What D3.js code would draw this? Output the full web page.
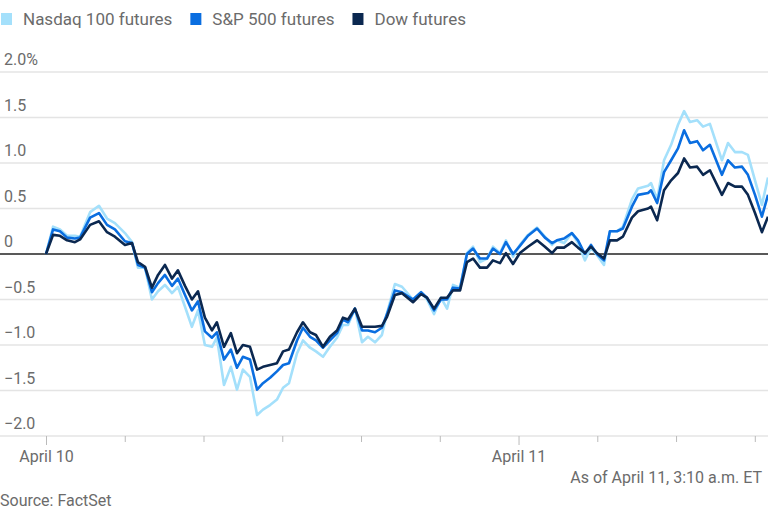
<!DOCTYPE html>
<html><head><meta charset="utf-8">
<script src="https://cdn.jsdelivr.net/npm/d3@7"></script>
<style>body{margin:0;background:#fff}svg{display:block;font-family:Roboto,"Liberation Sans",sans-serif}</style>
</head><body><svg id="c" width="768" height="510"></svg>
<script>
const hours=[0,0.36,0.71,1.07,1.47,1.73,2.24,2.69,3.1,3.5,4.01,4.37,4.67,5.03,5.38,5.69,6.04,6.4,6.7,7.06,7.41,7.72,8.07,8.43,8.68,9.04,9.39,9.7,10.0,10.36,10.72,11.02,11.38,11.73,12.04,12.34,12.75,13.05,13.41,13.71,14.07,14.42,14.78,15.08,15.34,15.69,16.05,16.35,16.71,17.06,17.32,17.72,18.08,18.64,19.05,19.35,19.71,20.06,20.37,20.67,21.03,21.38,21.69,22.04,22.4,22.7,23.06,23.36,23.72,24.07,24.48,24.94,25.34,25.7,25.95,26.31,26.71,27.02,27.37,27.68,27.98,28.34,28.64,29.0,29.3,29.76,30.07,30.58,30.73,31.04,31.39,31.75,32.1,32.41,32.71,33.07,33.37,33.72,34.33,34.64,34.99,35.35,35.65,36.01,36.36,36.67];
const dow=[0,.21,.20,.15,.13,.16,.32,.36,.24,.19,.10,.12,-.09,-.14,-.37,-.23,-.12,-.27,-.18,-.35,-.50,-.41,-.70,-.84,-.75,-1.02,-.87,-1.09,-1.0,-1.02,-1.27,-1.24,-1.22,-1.2,-1.07,-1.05,-.86,-.75,-.86,-.89,-1.02,-.91,-.84,-.70,-.72,-.60,-.80,-.80,-.80,-.79,-.69,-.45,-.43,-.53,-.44,-.48,-.60,-.48,-.48,-.40,-.40,-.09,-.05,-.15,-.15,-.07,-.10,.01,-.11,.01,.08,.15,.08,.01,.07,.07,.13,.07,.01,.08,.01,-.05,.15,.15,.19,.40,.47,.50,.52,.37,.70,.81,.89,1.05,.95,.96,.87,.92,.65,.78,.74,.74,.65,.45,.24,.41];
const sp=[0,.27,.25,.18,.17,.18,.40,.45,.32,.27,.14,.12,-.12,-.15,-.42,-.32,-.23,-.35,-.27,-.45,-.62,-.52,-.85,-.92,-.86,-1.16,-1.05,-1.25,-1.13,-1.16,-1.49,-1.42,-1.36,-1.29,-1.22,-1.2,-.95,-.81,-.91,-.95,-1.03,-.95,-.87,-.72,-.75,-.60,-.84,-.84,-.86,-.81,-.66,-.40,-.42,-.50,-.42,-.48,-.62,-.50,-.50,-.37,-.38,0,.06,-.05,-.05,.06,0,.13,0,.09,.2,.28,.18,.12,.15,.17,.23,.15,0,.1,0,-.07,.25,.25,.28,.52,.65,.67,.70,.56,.9,1.03,1.16,1.36,1.22,1.24,1.14,1.2,.87,1.03,.95,.96,.87,.65,.41,.65];
const nasdaq=[0,.30,.27,.20,.20,.19,.46,.53,.39,.34,.23,.13,-.15,-.15,-.50,-.41,-.34,-.43,-.36,-.58,-.80,-.62,-1.0,-1.02,-.92,-1.44,-1.24,-1.49,-1.27,-1.35,-1.77,-1.71,-1.66,-1.6,-1.47,-1.42,-1.09,-.95,-1.03,-1.07,-1.13,-1.02,-.92,-.78,-.78,-.60,-.97,-.91,-.97,-.89,-.65,-.33,-.36,-.50,-.42,-.50,-.66,-.48,-.60,-.34,-.37,.01,.08,-.09,-.05,.08,.01,.15,-.03,.10,.21,.29,.19,.10,.15,.12,.23,.12,-.07,.07,-.01,-.12,.25,.25,.30,.6,.72,.75,.78,.60,1.03,1.2,1.42,1.57,1.45,1.47,1.40,1.43,1.03,1.22,1.12,1.12,1.09,.81,.54,.84];
const seriesNames=["Nasdaq 100 futures","S&P 500 futures","Dow futures"];
const colors=["#a4e0fb","#0a6ee0","#0b2850"];
const yTicks=[2,1.5,1,0.5,0,-0.5,-1,-1.5,-2];
const xTicks=[0,4,8,12,16,20,24,28,32,36];
const xLabels={0:"April 10",24:"April 11"};

const svg=d3.select("#c");
const x=d3.scaleLinear().domain([0,36.67]).range([46,768]);
const y=d3.scaleLinear().domain([-2,2]).range([436,72]);
const grey="#6b6b6b";

// legend
let lx=0;
const legW=[160,170,120];
seriesNames.forEach((n,i)=>{
  const g=svg.append("g").attr("transform",`translate(${lx},0)`);
  g.append("rect").attr("x",1).attr("y",13).attr("width",11).attr("height",12).attr("fill",colors[i]);
  const t=g.append("text").attr("x",23).attr("y",25).attr("font-size",17).attr("fill",grey).text(n);
  lx+=t.node().getComputedTextLength()+23+17;
});

// gridlines
yTicks.forEach(v=>{
  if(v!==-2) svg.append("line").attr("x1",0).attr("x2",768).attr("y1",y(v)).attr("y2",y(v))
    .attr("stroke",v===0?"#222":"#e4e4e4").attr("stroke-width",v===0?1.3:1.3);
  svg.append("text").attr("x",4).attr("y",y(v)-7).attr("font-size",16).attr("fill",grey)
    .text(v===2?"2.0%":v===0?"0":d3.format(".1f")(v).replace("-","-"));
});
// x axis
svg.append("line").attr("x1",0).attr("x2",768).attr("y1",436).attr("y2",436).attr("stroke","#e4e4e4").attr("stroke-width",1.5);
const xa=d3.axisBottom(x).tickValues(xTicks).tickSize(0).tickFormat(d=>xLabels[d]||"");
svg.append("g").attr("transform","translate(0,436)").call(xa).call(g=>{
  g.select(".domain").remove();
  g.selectAll(".tick line").remove();
  g.selectAll(".tick").append("line").attr("y1",0).attr("y2",d=>xLabels[d]!==undefined?9:6).attr("stroke","#bbb");
  g.selectAll(".tick text").attr("dy",0).attr("y",26).attr("font-size",16).attr("fill",grey).attr("font-family","Roboto,sans-serif");
});

// lines
const line=d3.line().x((d,i)=>x(hours[i])).y(d=>y(d));
[nasdaq,sp,dow].forEach((s,i)=>{
  svg.append("path").attr("d",line(s)).attr("fill","none").attr("stroke",colors[i]).attr("stroke-width",2.6).attr("stroke-linejoin","round");
});

svg.append("text").attr("x",762).attr("y",483).attr("text-anchor","end").attr("font-size",16).attr("fill",grey).text("As of April 11, 3:10 a.m. ET");
svg.append("text").attr("x",0).attr("y",506).attr("font-size",16).attr("fill",grey).text("Source: FactSet");
</script></body></html>
